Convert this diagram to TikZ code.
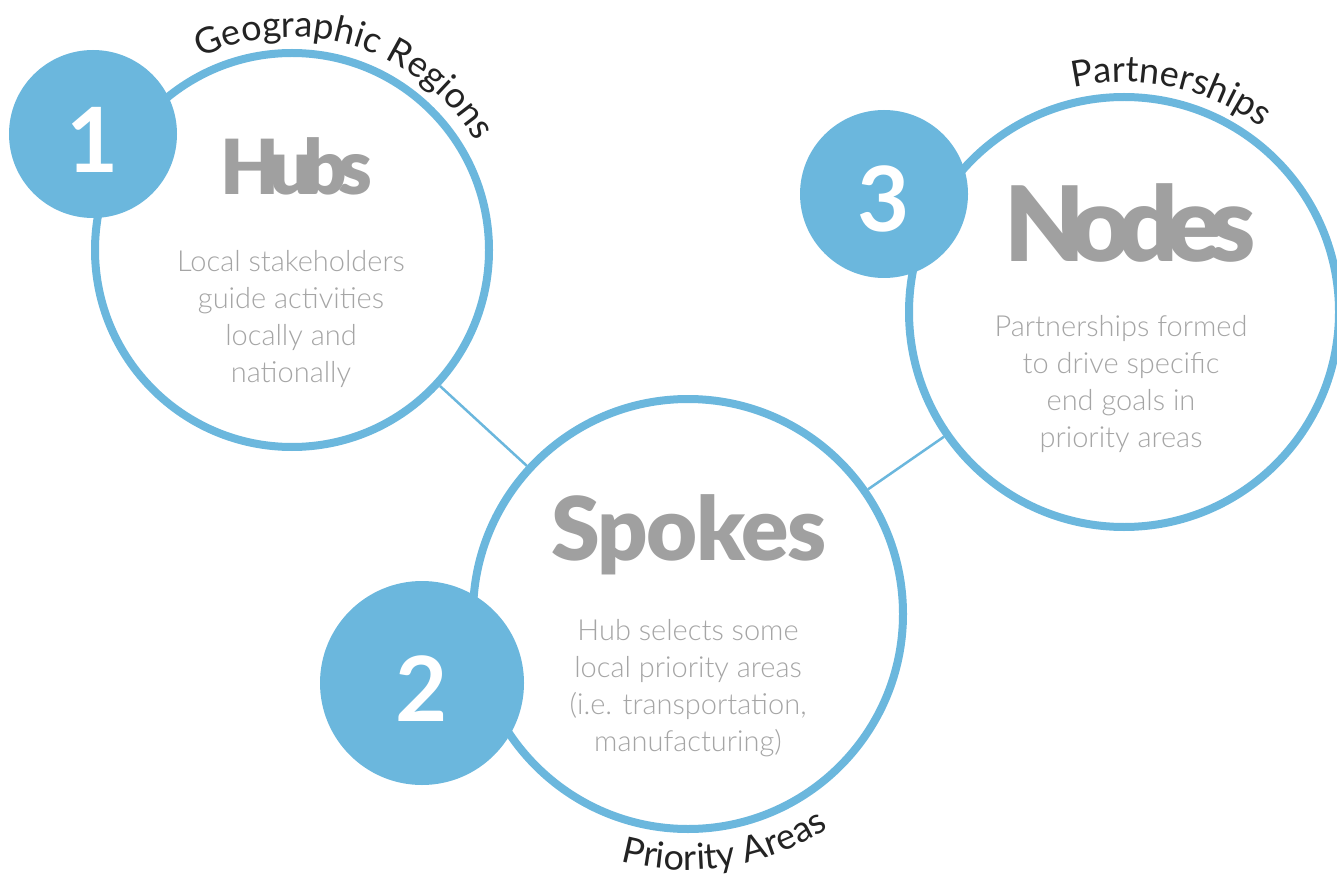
\documentclass[tikz,border=0pt]{standalone}
\usepackage{fontspec}
\setmainfont{Lato}
\newfontfamily\titlefont{Lato Black}
\newfontfamily\bodyfont{Lato Light}
\usetikzlibrary{decorations.text}

\definecolor{ringblue}{RGB}{107,183,221}
\definecolor{titlegray}{RGB}{160,160,160}
\definecolor{bodygray}{RGB}{165,165,165}
\definecolor{labelblack}{RGB}{35,35,35}

\newcommand{\labelsize}{\fontsize{36}{36}\selectfont}

\tikzset{
    ring/.style={circle, draw=ringblue, line width=8pt, fill=white, inner sep=0pt},
    disc/.style={circle, fill=ringblue, inner sep=0pt},
    digit/.style={text=white, inner sep=0pt, font=\bfseries\fontsize{90}{90}\selectfont},
    link/.style={draw=ringblue, line width=2.5pt},
    headline/.style={text=titlegray, anchor=base, inner sep=0pt},
    body/.style={text=bodygray, align=center, inner sep=0pt, font=\bodyfont\fontsize{29}{37}\selectfont},
    arclabel/.style={decorate, decoration={text along path, text align=center, text color=labelblack}},
}

\begin{document}
\begin{tikzpicture}[x=1pt, y=1pt]
    \useasboundingbox (0,0) rectangle (1337,-882);

    % big rings
    \node[ring, minimum size=394pt] (hubs) at (292,-250) {};
    \node[ring, minimum size=430pt] (spokes) at (688,-614) {};
    \node[ring, minimum size=430pt] (nodes) at (1124,-312) {};

    \draw[link] (hubs) -- (spokes);
    \draw[link] (spokes) -- (nodes);

    % numbered discs
    \node[disc, minimum size=168pt] (one) at (93,-134) {};
    \node[disc, minimum size=204pt] (two) at (422,-683) {};
    \node[disc, minimum size=168pt] (three) at (884,-194) {};

    \node[digit] at ([yshift=-6]one.center) {1};
    \node[digit] at ([yshift=-6]two.center) {2};
    \node[digit] at ([yshift=-5]three.center) {3};

    % titles
    \node[headline, font=\titlefont\fontsize{76}{76}\selectfont\addfontfeatures{LetterSpace=-12}] (hubstitle) at (296,-195) {Hubs};
    \node[headline, font=\titlefont\fontsize{88}{88}\selectfont\addfontfeatures{LetterSpace=-2}] (spokestitle) at (689,-560) {Spokes};
    \node[headline, font=\titlefont\fontsize{104}{104}\selectfont\addfontfeatures{LetterSpace=-12}] (nodestitle) at (1130,-262) {Nodes};

    % descriptions
    \node[body] (hubstext) at (291,-319) {Local stakeholders\\guide activities\\locally and\\nationally};
    \node[body] (spokestext) at (688,-688) {Hub selects some\\local priority areas\\(i.e. transportation,\\manufacturing)};
    \node[body] (nodestext) at (1121,-384) {Partnerships formed\\to drive specific\\end goals in\\priority areas};

    % curved labels
    \path[arclabel, decoration={text={|\labelsize|Geographic Regions}}]
        (hubs.center) ++(126:213pt) arc[start angle=126, end angle=20, radius=213pt];
    \path[arclabel, decoration={text={|\labelsize|Partnerships}}]
        (nodes.center) ++(118:230pt) arc[start angle=118, end angle=38, radius=230pt];
    \path[arclabel, decoration={text={|\labelsize|Priority Areas}}]
        (spokes.center) ++(238:256pt) arc[start angle=238, end angle=320, radius=256pt];
\end{tikzpicture}
\end{document}
